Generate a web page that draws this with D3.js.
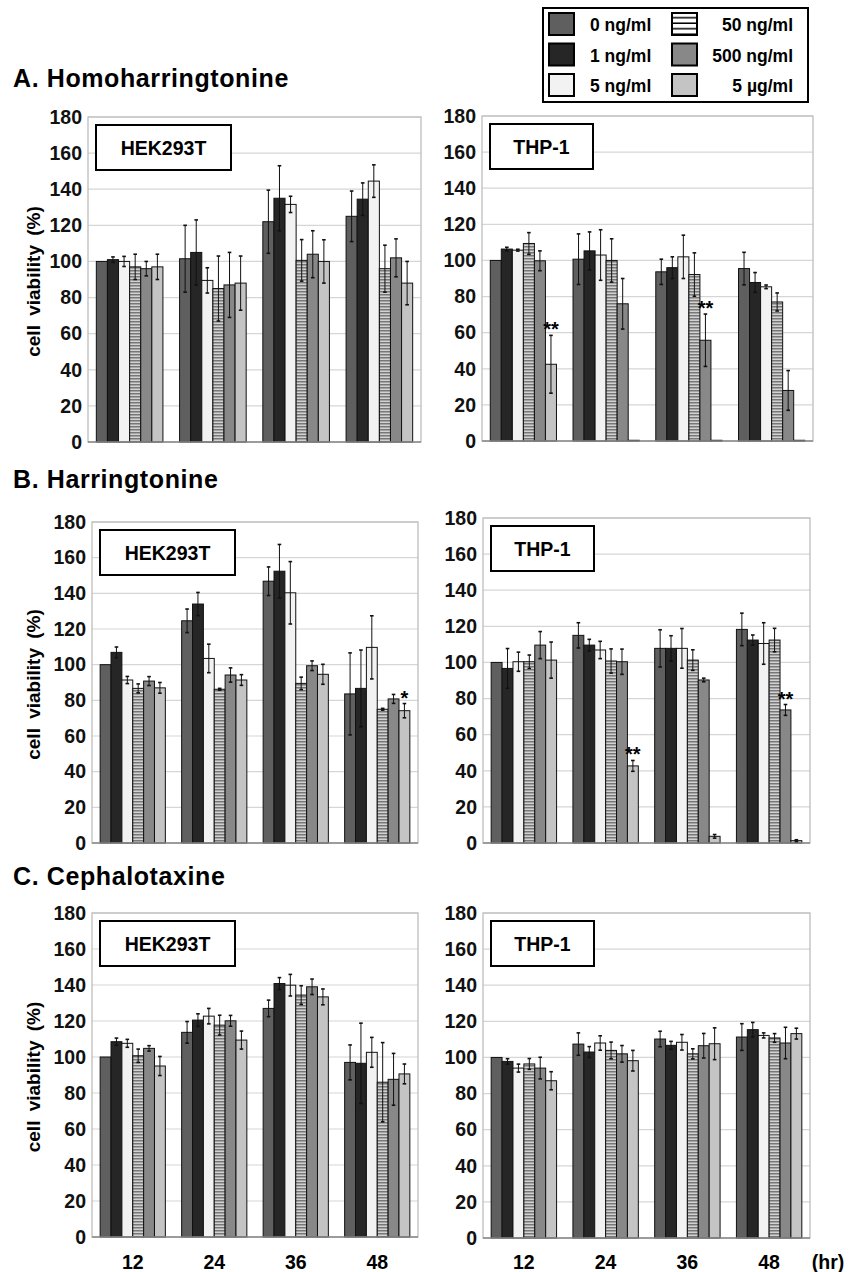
<!DOCTYPE html>
<html>
<head>
<meta charset="utf-8">
<script src="https://cdn.jsdelivr.net/npm/d3@7"></script>
<style>
  body { margin: 0; background: #fff; }
  text { font-family: "Liberation Sans", Arial, sans-serif; }
</style>
</head>
<body>
<div id="chart"></div>
<script>
// categories
const hours = ["12", "24", "36", "48"];
const doses = ["0 ng/ml", "1 ng/ml", "5 ng/ml", "50 ng/ml", "500 ng/ml", "5 µg/ml"];
const yTicks = [0, 20, 40, 60, 80, 100, 120, 140, 160, 180];

// rows = hours, columns = doses (mean, error)
const hhtHekMean = [[100, 101, 100, 97, 96, 97], [101.5, 105, 89.5, 85, 87, 88], [122, 135, 131.6, 100.6, 104, 100], [125, 134.5, 144.5, 96, 102, 88]];
const hhtHekErr = [[0, 1.5, 2.8, 7, 4, 7], [18.5, 18, 7, 18, 18, 15], [17.5, 18, 4.5, 11.5, 13, 12], [14, 9, 9, 13, 10.5, 12]];
const hhtThpMean = [[100, 106.3, 105.7, 109.4, 99.8, 42.5], [100.7, 105.3, 103, 100, 76, 0.4], [93.7, 96, 102, 92.2, 55.8, 0.4], [95.5, 87.8, 85.4, 77, 28, 0.4]];
const hhtThpErr = [[0, 1, 0.5, 6, 5.5, 16], [14, 10.5, 14, 12, 14, 0], [7, 6, 12, 12, 14.5, 0], [9, 5.5, 1, 5, 11, 0]];
const htHekMean = [[100, 106.9, 91.4, 86.7, 90.8, 87], [124.6, 134, 103.5, 86.2, 94.2, 91.4], [146.8, 152.4, 140.3, 89.5, 99.4, 94.6], [83.6, 86.7, 109.7, 75, 80.8, 74.2]];
const htHekErr = [[0, 3, 2, 2.5, 2.5, 3], [6.6, 6.5, 8, 0.5, 4, 3], [8, 15, 17.5, 3.5, 2.7, 5.6], [23, 21.5, 17.7, 0.5, 2.5, 4]];
const htThpMean = [[100, 96.7, 100.4, 100.4, 109.6, 101.3], [115, 109.6, 106.9, 100.8, 100.4, 42.7], [107.8, 107.8, 107.8, 101.3, 90.3, 3.7], [118.3, 112.4, 110.5, 112.4, 73.7, 1.3]];
const htThpErr = [[0, 11, 5.3, 3.7, 7.5, 10], [7, 3.2, 4.8, 6.7, 7, 3], [10.3, 7, 11, 5.7, 1, 1], [9, 2.8, 11.5, 6.5, 3, 0.5]];
const ctxHekMean = [[100, 108.5, 107.6, 100.7, 104.8, 95], [113.7, 120.5, 122.7, 117.7, 120.1, 109.4], [127, 140.8, 139.9, 134.4, 139, 133.4], [97, 96.5, 102.6, 86, 87.6, 90.6]];
const ctxHekErr = [[0, 2, 2.2, 3.7, 1.5, 5.3], [6, 3.5, 4.3, 5.5, 3, 5], [4.6, 3.3, 6, 5.2, 4.3, 4.4], [9.7, 22.3, 8.3, 22, 14.4, 5.5]];
const ctxThpMean = [[100, 97.8, 94.1, 96.4, 94.1, 87.1], [107.4, 103, 108, 103.9, 102, 98.2], [110.2, 106.7, 108.4, 102, 106.5, 107.6], [111.3, 115.4, 112.2, 110.8, 108, 113.2]];
const ctxThpErr = [[0, 1.5, 2.2, 3, 6, 5], [6.2, 3, 4, 4.6, 4.6, 5.7], [4.3, 2.2, 4.3, 2.8, 6.8, 8.8], [7.4, 4, 1.4, 2.4, 8.7, 3]];

// significance marks
const stars = [
  { panel: "hhtThp", hour: "12", dose: "5 µg/ml", text: "**" },
  { panel: "hhtThp", hour: "36", dose: "500 ng/ml", text: "**" },
  { panel: "htHek", hour: "48", dose: "5 µg/ml", text: "*" },
  { panel: "htThp", hour: "24", dose: "5 µg/ml", text: "**" },
  { panel: "htThp", hour: "48", dose: "500 ng/ml", text: "**" }
];

const sections = [
  { title: "A. Homoharringtonine", ty: 87 },
  { title: "B. Harringtonine", ty: 488 },
  { title: "C. Cephalotaxine", ty: 885 }
];

const panels = [
  { id: "hhtHek", cell: "HEK293T", mean: hhtHekMean, err: hhtHekErr, x0: 88, x1: 421, y0: 117, y1: 442, left: true, bw: 135 },
  { id: "hhtThp", cell: "THP-1", mean: hhtThpMean, err: hhtThpErr, x0: 482, x1: 813, y0: 116, y1: 441, left: false, bw: 103 },
  { id: "htHek", cell: "HEK293T", mean: htHekMean, err: htHekErr, x0: 92, x1: 418, y0: 522, y1: 843, left: true, bw: 135 },
  { id: "htThp", cell: "THP-1", mean: htThpMean, err: htThpErr, x0: 483, x1: 810, y0: 518, y1: 843, left: false, bw: 103 },
  { id: "ctxHek", cell: "HEK293T", mean: ctxHekMean, err: ctxHekErr, x0: 92, x1: 418, y0: 913, y1: 1237, left: true, bw: 135, xlab: true },
  { id: "ctxThp", cell: "THP-1", mean: ctxThpMean, err: ctxThpErr, x0: 483, x1: 810, y0: 913, y1: 1238, left: false, bw: 103, xlab: true }
];

const fills = ["#5f5f5f", "#262626", "#f2f2f2", "url(#hatch)", "#888888", "#c4c4c4"];
const legendFills = ["#5f5f5f", "#262626", "#f2f2f2", "url(#hatchLegend)", "#888888", "#c4c4c4"];

const svg = d3.select("#chart").append("svg")
  .attr("width", 851)
  .attr("height", 1272);

svg.append("rect").attr("width", 851).attr("height", 1272).attr("fill", "#fff");

// hatch patterns for 50 ng/ml
const defs = svg.append("defs");
const hp = defs.append("pattern").attr("id", "hatch")
  .attr("patternUnits", "userSpaceOnUse").attr("width", 8).attr("height", 3);
hp.append("rect").attr("width", 8).attr("height", 3).attr("fill", "#d2d2d2");
hp.append("rect").attr("width", 8).attr("height", 1.5).attr("fill", "#777777");
const hl = defs.append("pattern").attr("id", "hatchLegend")
  .attr("patternUnits", "userSpaceOnUse").attr("width", 30).attr("height", 5.5);
hl.append("rect").attr("width", 30).attr("height", 5.5).attr("fill", "#fff");
hl.append("rect").attr("y", 4).attr("width", 30).attr("height", 1.5).attr("fill", "#000");

// section titles
svg.selectAll(".title")
  .data(sections)
  .join("text")
    .attr("x", 13)
    .attr("y", d => d.ty)
    .attr("font-size", 25)
    .attr("font-weight", "bold")
    .attr("letter-spacing", 0.6)
    .text(d => d.title);

panels.forEach(p => {
  const g = svg.append("g");

  const y = d3.scaleLinear().domain([0, 180]).range([p.y1, p.y0]);
  const x = d3.scaleBand().domain(hours).range([p.x0, p.x1])
    .paddingInner(0.2).paddingOuter(0.1);
  const xs = d3.scaleBand().domain(doses).range([0, x.bandwidth()]);

  // gridlines
  g.selectAll(".grid")
    .data(yTicks.slice(1))
    .join("line")
      .attr("x1", p.x0).attr("x2", p.x1)
      .attr("y1", d => y(d)).attr("y2", d => y(d))
      .attr("stroke", "#d6d6d6").attr("stroke-width", 1.2);

  // frame
  g.append("rect")
    .attr("x", p.x0).attr("y", p.y0)
    .attr("width", p.x1 - p.x0).attr("height", p.y1 - p.y0)
    .attr("fill", "none").attr("stroke", "#bdbdbd").attr("stroke-width", 1.3);

  // y axis
  const ya = g.append("g")
    .attr("transform", `translate(${p.x0},0)`)
    .call(d3.axisLeft(y).tickValues(yTicks).tickSize(0).tickPadding(6));
  ya.select(".domain").remove();
  ya.selectAll("text")
    .attr("font-size", 19.5).attr("font-weight", "bold")
    .attr("fill", "#111")
    .style("font-family", "'Liberation Sans', Arial, sans-serif");

  // bars
  const rows = [];
  p.mean.forEach((r, i) => r.forEach((v, j) => {
    rows.push({ hour: hours[i], dose: doses[j], k: j, v: v, e: p.err[i][j] });
  }));

  g.selectAll(".bar")
    .data(rows)
    .join("rect")
      .attr("x", d => x(d.hour) + xs(d.dose))
      .attr("y", d => y(d.v))
      .attr("width", xs.bandwidth())
      .attr("height", d => y(0) - y(d.v))
      .attr("fill", d => fills[d.k])
      .attr("stroke", "#111").attr("stroke-width", 1);

  // baseline axis
  g.append("line")
    .attr("x1", p.x0).attr("x2", p.x1)
    .attr("y1", y(0)).attr("y2", y(0))
    .attr("stroke", "#8a8a8a").attr("stroke-width", 1.5);

  // error bars
  const eb = g.selectAll(".err")
    .data(rows.filter(d => d.e > 0))
    .join("g")
      .attr("transform", d => `translate(${x(d.hour) + xs(d.dose) + xs.bandwidth() / 2},0)`);
  eb.append("line")
    .attr("y1", d => y(d.v - d.e)).attr("y2", d => y(d.v + d.e))
    .attr("stroke", "#111").attr("stroke-width", 1);
  eb.append("line")
    .attr("x1", -1.8).attr("x2", 1.8)
    .attr("y1", d => y(d.v + d.e)).attr("y2", d => y(d.v + d.e))
    .attr("stroke", "#111").attr("stroke-width", 1.6);
  eb.append("line")
    .attr("x1", -1.8).attr("x2", 1.8)
    .attr("y1", d => y(d.v - d.e)).attr("y2", d => y(d.v - d.e))
    .attr("stroke", "#111").attr("stroke-width", 1.6);

  // significance stars
  g.selectAll(".star")
    .data(stars.filter(s => s.panel === p.id))
    .join("text")
      .attr("x", d => x(d.hour) + xs(d.dose) + xs.bandwidth() / 2)
      .attr("y", d => {
        const r = rows.find(q => q.hour === d.hour && q.dose === d.dose);
        return y(r.v + r.e) + 1;
      })
      .attr("text-anchor", "middle")
      .attr("font-size", 20).attr("font-weight", "bold")
      .text(d => d.text);

  // cell line box
  g.append("rect")
    .attr("x", p.x0 + 8).attr("y", p.y0 + 8)
    .attr("width", p.bw).attr("height", 45)
    .attr("fill", "#fff").attr("stroke", "#000").attr("stroke-width", 2);
  g.append("text")
    .attr("x", p.x0 + 8 + p.bw / 2).attr("y", p.y0 + 38)
    .attr("text-anchor", "middle")
    .attr("font-size", 19.5).attr("font-weight", "bold")
    .text(p.cell);

  // y label
  if (p.left) {
    g.append("text")
      .attr("transform", `translate(40,${(p.y0 + p.y1) / 2 + 2}) rotate(-90)`)
      .attr("text-anchor", "middle")
      .attr("font-size", 19).attr("font-weight", "bold")
      .attr("word-spacing", 4)
      .text("cell viability (%)");
  }

  // x labels
  if (p.xlab) {
    g.selectAll(".xl")
      .data(hours)
      .join("text")
        .attr("x", d => x(d) + x.bandwidth() / 2)
        .attr("y", 1269)
        .attr("text-anchor", "middle")
        .attr("font-size", 19.5).attr("font-weight", "bold")
        .text(d => d);
    if (!p.left) {
      g.append("text")
        .attr("x", 828).attr("y", 1269)
        .attr("text-anchor", "middle")
        .attr("font-size", 19.5).attr("font-weight", "bold")
        .text("(hr)");
    }
  }
});

// legend
const lg = svg.append("g");
lg.append("rect")
  .attr("x", 543).attr("y", 8).attr("width", 265).attr("height", 94)
  .attr("fill", "#fff").attr("stroke", "#000").attr("stroke-width", 2);

const items = lg.selectAll(".li")
  .data(doses)
  .join("g")
    .attr("transform", (d, i) => `translate(${i < 3 ? 549 : 672},${13 + (i % 3) * 30.5})`);
items.append("rect")
  .attr("width", 25).attr("height", 22)
  .attr("fill", (d, i) => legendFills[i])
  .attr("stroke", "#000").attr("stroke-width", 2);
items.append("text")
  .attr("x", (d, i) => i < 3 ? 41 : 121)
  .attr("y", 18)
  .attr("text-anchor", (d, i) => i < 3 ? "start" : "end")
  .attr("font-size", 17.5).attr("font-weight", "bold")
  .text(d => d);
</script>
</body>
</html>
